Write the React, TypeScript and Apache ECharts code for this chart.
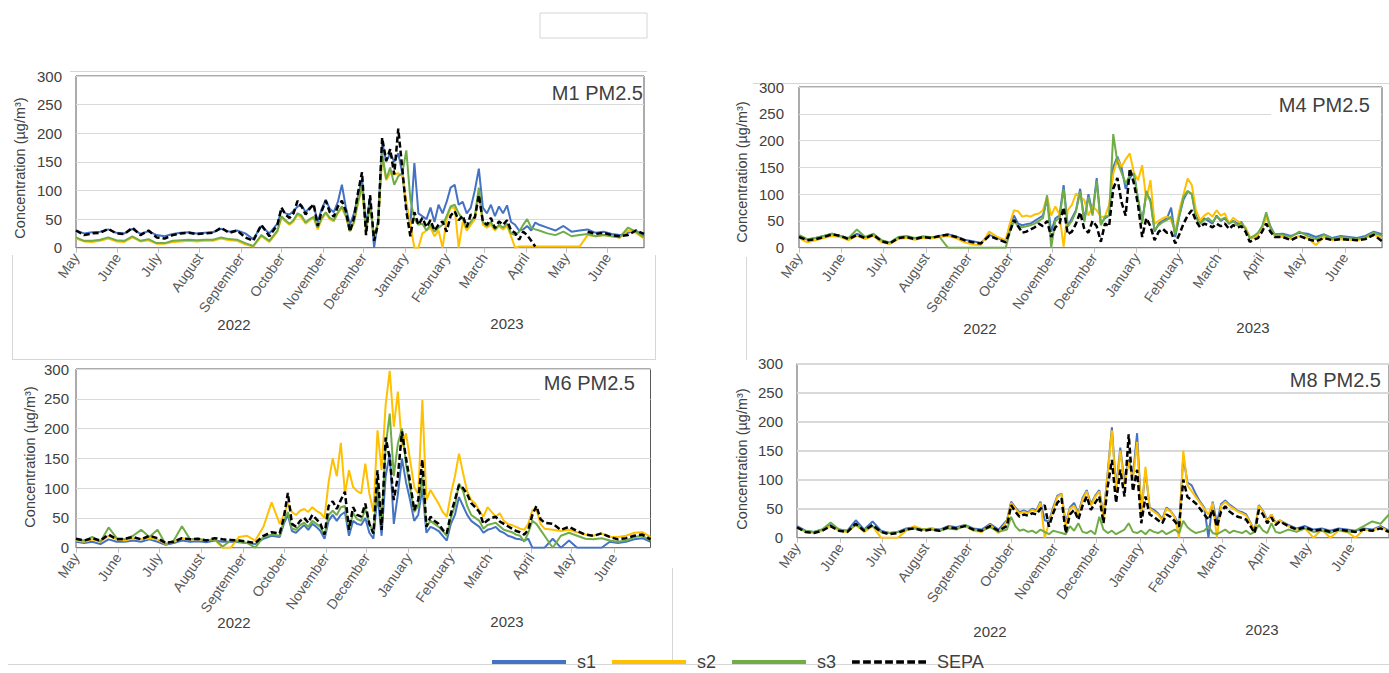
import { useEffect, useRef } from "react";
import * as echarts from "echarts";

// ---------- data ----------
const monthNames = ["January", "February", "March", "April", "May", "June", "July", "August", "September", "October", "November", "December"];
const seriesNames = ["s1", "s2", "s3", "SEPA"];
const seriesColors = ["#4472C4", "#FFC000", "#70AD47", "#000000"];
const panelTitles = ["M1 PM2.5", "M4 PM2.5", "M6 PM2.5", "M8 PM2.5"];
const yearLabels = ["2022", "2023"];
const yTitle = "Concentration (µg/m³)";
const yMin = 0;
const yMax = 300;
const yStep = 50;
const firstDay = "2022-05-01";
const dayCount = 424;

// day offsets (since 1 May 2022) of the sampled readings
const sampleDays = [
  0, 6, 12, 18, 24, 30, 36, 42, 48, 54, 60, 66, 72, 78, 84, 90, 96, 102, 108, 114, 120, 126, 132, 138, 144, 150,
  153, 156, 159, 162, 165, 168, 171, 174, 177, 180, 183, 186, 189, 192, 195, 198, 201, 204, 207, 210, 213, 216, 219, 222,
  225, 228, 231, 234, 237, 240, 243, 246, 249, 252, 255, 258, 261, 264, 267, 270, 273, 276, 279, 282, 285, 288, 291, 294,
  297, 300, 303, 306, 309, 312, 315, 318, 321, 324, 327, 330, 333, 336, 339, 342, 345,
  351, 357, 363, 369, 375, 381, 387, 393, 399, 405, 411, 417, 423,
];

// ---- M1 ----
const m1S1 = [
  30, 25, 27, 28, 32, 26, 25, 33, 24, 29, 22, 20, 24, 26, 27, 25, 26, 27, 33, 28, 30, 25, 15, 38, 25, 42,
  66, 60, 58, 64, 72, 74, 62, 70, 74, 45, 68, 84, 68, 62, 80, 110, 70, 40, 60, 90, 120, 40, 88, 0, 50, 185, 150, 165, 150, 165,
  130, 70, 40, 148, 60, 55, 50, 70, 45, 75, 60, 80, 105, 110, 75, 80, 60, 70, 100, 138, 70, 60, 75, 55, 72, 60, 74, 45, 40, 30,
  32, 38, 30, 44, 40,
  35, 30, 38, 28, 30, 32, 26, 28, 24, 22, 26, 30, 20,
];
const m1S2 = [
  16, 11, 10, 12, 16, 11, 10, 18, 11, 13, 7, 7, 10, 11, 12, 11, 12, 12, 16, 13, 12, 6, 2, 20, 10, 28,
  52, 46, 40, 46, 58, 52, 42, 48, 52, 32, 50, 60, 50, 46, 60, 70, 54, 28, 43, 78, 105, 28, 75, 18, 42, 160, 118, 130, 128, 130,
  125, 80, 40, 0, 0, 25, 30, 35, 20, 30, 0, 50, 70, 70, 0, 45, 30, 40, 50, 95, 40, 35, 40, 30, 38, 32, 38, 20, 0, 2,
  2, 2, 2, 2, 2,
  2, 2, 2, 2, 2, 22, 20, 22, 20, 18, 30, 26, 16,
];
const m1S3 = [
  18, 12, 12, 14, 18, 13, 12, 20, 12, 15, 8, 8, 12, 13, 14, 13, 14, 14, 18, 15, 14, 8, 3, 22, 12, 30,
  55, 48, 42, 48, 60, 56, 44, 50, 54, 35, 52, 62, 52, 48, 62, 72, 56, 30, 45, 80, 110, 30, 78, 20, 45, 165, 120, 140, 110, 125,
  130, 170, 85, 50, 40, 42, 30, 40, 28, 35, 40, 55, 72, 75, 60, 50, 35, 45, 55, 105, 45, 38, 45, 32, 40, 35, 42, 25, 22, 28,
  40, 50, 35, 32, 30,
  25, 22, 28, 20, 22, 24, 20, 22, 20, 18, 35, 28, 18,
];
const m1Sepa = [
  30, 22, 25, 26, 33, 25, 24, 35, 22, 30, 18, 16, 22, 25, 26, 24, 25, 26, 35, 26, 30, 18, 12, 40, 20, 40,
  70, 58, 52, 60, 82, 72, 58, 68, 76, 38, 64, 82, 62, 54, 72, 82, 64, 28, 52, 96, 132, 22, 92, 12, 42, 192, 152, 172, 128, 208,
  138, 64, 20, 62, 40, 52, 36, 48, 30, 40, 46, 28, 56, 64, 48, 56, 36, 58, 52, 92, 46, 40, 52, 34, 46, 40, 48, 30, 26, 14,
  28, 22, 12, 2, null,
  null, null, null, null, null, 28, 24, 26, 22, 20, 22, 30, 24,
];

// ---- M4 ----
const m4S1 = [
  22, 15, 18, 22, 26, 22, 17, 26, 19, 25, 13, 9, 19, 21, 17, 21, 19, 22, 25, 21, 15, 12, 9, 24, 18, 12,
  42, 60, 45, 42, 44, 45, 50, 55, 60, 90, 30, 55, 60, 117, 40, 55, 70, 110, 50, 100, 65, 130, 45, 55, 60, 150, 170, 150, 110, 130,
  140, 90, 50, 100, 90, 30, 45, 50, 55, 75, 20, 60, 90, 105, 100, 60, 45, 55, 50, 45, 60, 50, 55, 45, 50, 45, 48, 35, 20, 18,
  25, 35, 62, 40, 25,
  26, 22, 28, 26, 20, 25, 18, 22, 20, 18, 22, 30, 25,
];
const m4S2 = [
  18, 10, 14, 18, 22, 20, 14, 22, 16, 22, 10, 7, 16, 18, 15, 18, 17, 20, 22, 18, 10, 6, 5, 30, 20, 14,
  45, 70, 68, 58, 60, 58, 62, 64, 70, 95, 60, 77, 62, 2, 70, 80, 101, 95, 89, 60, 77, 70, 58, 58, 80, 138, 165, 151, 165, 176,
  140, 126, 154, 89, 126, 45, 50, 55, 58, 52, 30, 70, 100, 129, 117, 70, 51, 60, 65, 58, 70, 60, 64, 45, 56, 50, 45, 38, 20, 18,
  25, 35, 58, 35, 22,
  20, 16, 22, 18, 5, 20, 14, 16, 15, 14, 18, 24, 18,
];
const m4S3 = [
  24, 16, 18, 22, 26, 22, 18, 34, 20, 26, 14, 10, 20, 22, 18, 21, 20, 20, 0, 0, 0, 0, 0, 0, 0, 0,
  30, 50, 40, 38, 40, 42, 45, 50, 55, 98, 0, 50, 55, 110, 40, 50, 68, 105, 48, 95, 60, 125, 42, 58, 60, 212, 160, 140, 120, 135,
  138, 90, 45, 106, 85, 33, 42, 48, 52, 58, 25, 60, 95, 106, 100, 55, 45, 52, 55, 48, 58, 52, 56, 45, 50, 42, 46, 35, 18, 22,
  28, 40, 66, 38, 25,
  24, 20, 30, 22, 16, 24, 16, 20, 18, 16, 20, 28, 22,
];
const m4Sepa = [
  20, 14, 16, 20, 25, 22, 16, 24, 18, 24, 12, 8, 18, 20, 16, 20, 18, 22, 24, 20, 14, 10, 8, 22, 16, 10,
  30, 52, 40, 28, 30, 34, 38, 45, 40, 50, 20, 38, 45, 75, 25, 30, 45, 66, 35, 28, 50, 40, 11, 45, 40, 110, 130, 85, 60, 148,
  120, 80, 20, 55, 40, 14, 30, 35, 28, 30, 8, 25, 45, 60, 70, 50, 38, 45, 42, 38, 45, 40, 45, 35, 42, 38, 40, 30, 11, 15,
  18, 30, 45, 30, 20,
  20, 14, 22, 16, 12, 18, 14, 16, 15, 14, 16, 24, 12,
];

// ---- M6 ----
const m6S1 = [
  10, 8, 10, 6, 14, 10, 10, 12, 10, 14, 10, 5, 8, 12, 10, 11, 9, 12, 10, 10, 9, 8, 6, 15, 20, 18,
  40, 55, 28, 25, 32, 38, 30, 40, 35, 28, 15, 45, 55, 45, 55, 60, 20, 45, 40, 38, 50, 25, 15, 90, 20, 120, 158, 40, 90, 150,
  110, 80, 45, 55, 100, 25, 35, 32, 28, 20, 12, 40, 55, 85, 70, 55, 45, 40, 35, 25, 30, 32, 35, 28, 25, 20, 18, 15, 14, 12,
  15, 0, 0, 0, 0,
  15, 0, 12, 0, 0, 0, 0, 10, 8, 10, 14, 16, 10,
];
const m6S2 = [
  12, 10, 14, 10, 20, 14, 12, 16, 14, 16, 14, 6, 10, 16, 14, 14, 12, 14, 0, 0, 18, 20, 12, 35, 76, 40,
  55, 74, 60, 55, 62, 65, 60, 68, 62, 58, 50, 110, 150, 120, 176, 91, 130, 102, 95, 91, 141, 91, 60, 197, 130, 240, 297, 203, 262, 170,
  192, 147, 102, 90, 248, 80, 97, 85, 74, 60, 52, 90, 120, 158, 125, 95, 80, 74, 62, 52, 68, 60, 52, 58, 45, 40, 38, 35, 32, 30,
  40, 63, 65, 40, 32,
  30, 28, 30, 26, 22, 20, 24, 18, 18, 20, 25, 26, 18,
];
const m6S3 = [
  14, 12, 18, 10, 34, 16, 14, 20, 30, 18, 30, 6, 12, 36, 14, 15, 12, 14, 2, 12, 10, 8, 0, 18, 22, 20,
  45, 60, 32, 30, 38, 42, 35, 45, 40, 35, 20, 55, 62, 55, 68, 70, 30, 58, 48, 45, 65, 40, 25, 110, 40, 170, 225, 120, 175, 200,
  140, 100, 60, 70, 120, 35, 45, 40, 35, 28, 20, 50, 70, 108, 95, 70, 55, 50, 45, 32, 38, 40, 42, 36, 30, 28, 26, 22, 20, 10,
  25, 45, 40, 30, 20,
  0, 20, 25, 20, 15, 14, 16, 12, 10, 12, 18, 20, 12,
];
const m6Sepa = [
  15, 12, 16, 12, 22, 14, 15, 18, 14, 20, 16, 8, 10, 16, 14, 15, 12, 16, 14, 13, 12, 10, 8, 20, 26, 24,
  50, 92, 40, 35, 45, 50, 42, 55, 48, 40, 22, 70, 78, 65, 80, 94, 30, 68, 55, 52, 74, 40, 24, 130, 30, 185, 150, 80, 120, 195,
  150, 110, 63, 80, 148, 35, 52, 45, 40, 30, 24, 57, 80, 105, 100, 90, 75, 68, 60, 40, 46, 50, 52, 44, 40, 36, 32, 28, 26, 22,
  30, 55, 70, 48, 42,
  40, 30, 35, 28, 22, 20, 24, 18, 14, 16, 20, 22, 14,
];

// ---- M8 ----
const m8S1 = [
  20, 12, 10, 14, 22, 14, 12, 30, 14, 28, 12, 8, 10, 16, 18, 14, 16, 14, 20, 18, 22, 16, 14, 24, 14, 30,
  62, 52, 44, 47, 44, 50, 47, 62, 30, 28, 52, 72, 76, 25, 52, 60, 42, 68, 82, 58, 72, 82, 38, 112, 190, 85, 155, 95, 135, 105,
  180, 45, 115, 52, 48, 42, 32, 52, 46, 36, 20, 140, 95, 90, 75, 62, 52, 0, 62, 25, 58, 64, 57, 52, 46, 44, 40, 26, 12, 56,
  46, 30, 40, 26, 30,
  22, 16, 20, 14, 16, 12, 16, 14, 12, 16, 14, 20, 12,
];
const m8S2 = [
  18, 10, 8, 12, 20, 12, 10, 22, 10, 20, 0, 0, 0, 12, 20, 14, 16, 12, 18, 16, 20, 12, 10, 22, 8, 28,
  60, 50, 42, 45, 42, 48, 45, 60, 0, 25, 48, 70, 75, 20, 50, 55, 40, 65, 80, 55, 70, 80, 35, 110, 185, 80, 150, 90, 130, 100,
  165, 40, 122, 50, 45, 40, 30, 50, 45, 35, 0, 150, 90, 80, 70, 60, 50, 40, 60, 0, 55, 62, 55, 50, 45, 42, 38, 25, 10, 55,
  45, 28, 40, 25, 30,
  20, 14, 16, 0, 14, 0, 12, 10, 0, 14, 12, 18, 10,
];
const m8S3 = [
  16, 12, 10, 14, 26, 14, 12, 22, 14, 20, 10, 8, 10, 14, 16, 14, 14, 12, 16, 14, 22, 14, 12, 18, 10, 14,
  36, 20, 12, 14, 10, 12, 8, 14, 10, 6, 12, 10, 8, 6, 20, 12, 25, 10, 8, 12, 6, 36, 14, 8, 12, 6, 10, 14, 25, 10,
  8, 12, 6, 14, 10, 8, 12, 6, 10, 14, 8, 29, 18, 12, 8, 10, 12, 20, 8, 6, 10, 14, 8, 12, 10, 8, 12, 6, 10, 22,
  12, 8, 25, 10, 8,
  14, 10, 16, 10, 12, 8, 14, 10, 12, 20, 28, 24, 40,
];
const m8Sepa = [
  18, 10, 8, 12, 20, 12, 10, 24, 12, 22, 10, 6, 8, 14, 16, 12, 14, 12, 18, 16, 20, 14, 12, 20, 12, 20,
  56, 45, 36, 40, 38, 42, 40, 50, 56, 19, 42, 60, 68, 8, 40, 48, 31, 55, 71, 48, 60, 71, 25, 88, 134, 60, 117, 71, 178, 80,
  117, 25, 71, 40, 36, 30, 25, 40, 36, 28, 19, 100, 70, 65, 59, 50, 40, 31, 48, 19, 45, 54, 45, 40, 36, 34, 31, 20, 8, 48,
  40, 25, 35, 22, 28,
  20, 14, 18, 12, 14, 10, 14, 12, 10, 14, 12, 16, 10,
];

const panelSeries = [
  [m1S1, m1S2, m1S3, m1Sepa],
  [m4S1, m4S2, m4S3, m4Sepa],
  [m6S1, m6S2, m6S3, m6Sepa],
  [m8S1, m8S2, m8S3, m8Sepa],
];

// ---------- layout (pixels) ----------
const layouts = [
  { left: 76, top: 76, width: 568, height: 171.7, yShift: 5, labelMargin: 14, yt: [20, 168], years: [[234, 324], [507, 323]], title: [643, 93], bg: [546, 80, 97, 22], split: 1 },
  { left: 799, top: 87, width: 583, height: 160.7, yShift: 4, labelMargin: 15, yt: [742, 172], years: [[980, 328], [1253, 327]], title: [1370, 105], bg: [1271, 92, 110, 23], split: 1 },
  { left: 76, top: 369, width: 574.5, height: 178.7, yShift: 0, labelMargin: 7, yt: [29.5, 457], years: [[234, 622], [507, 621]], title: [635, 383], bg: [540, 371, 110, 29], split: 1 },
  { left: 797, top: 363.5, width: 607, height: 174.2, yShift: 8, labelMargin: 14, yt: [742, 459], years: [[990, 631], [1262, 629]], title: [1381, 380], bg: [1283, 368, 105, 22], split: 2 },
];

const FONT = "'Liberation Sans', Arial, Helvetica, sans-serif";

const solidIcon = "path://M0,0h74v4h-74z";
const dashIcon =
  "path://M0,0h7v3h-7z M10,0h7v3h-7z M20,0h7v3h-7z M30,0h7v3h-7z M40,0h7v3h-7z M50,0h7v3h-7z M60,0h7v3h-7z";

function buildCategories(): string[] {
  const out: string[] = [];
  const [y, m, d] = firstDay.split("-").map(Number);
  for (let i = 0; i < dayCount; i++) {
    const dt = new Date(Date.UTC(y, m - 1, d + i));
    out.push(dt.toISOString().slice(0, 10));
  }
  return out;
}

export default function App() {
  const ref = useRef<HTMLDivElement>(null);

  useEffect(() => {
    if (!ref.current) return;
    const chart = echarts.init(ref.current, undefined, { renderer: "svg" });
    const categories = buildCategories();
    const isMonthStart = (_i: number, v: string) => typeof v === "string" && v.endsWith("-01");

    const grids = layouts.map((l) => ({
      left: l.left,
      top: l.top,
      width: l.width,
      height: l.height,
      show: true,
      borderColor: "#595959",
      borderWidth: 1,
      backgroundColor: "transparent",
      containLabel: false,
    }));

    const xAxes = layouts.map((_l, p) => ({
      type: "category",
      gridIndex: p,
      data: categories,
      boundaryGap: false,
      axisLine: { show: true, lineStyle: { color: "#7f7f7f", width: 1 } },
      axisTick: { show: true, interval: isMonthStart, length: 5, lineStyle: { color: "#bfbfbf" } },
      axisLabel: {
        interval: isMonthStart,
        rotate: 55,
        margin: 7,
        fontSize: 14,
        fontFamily: FONT,
        color: "#595959",
        formatter: (v: string) => monthNames[Number(v.slice(5, 7)) - 1],
      },
      splitLine: { show: false },
    }));

    const yAxes = layouts.map((l, p) => ({
      type: "value",
      gridIndex: p,
      min: yMin,
      max: yMax,
      interval: yStep,
      axisLine: { show: false },
      axisTick: { show: false },
      axisLabel: {
        fontSize: 15,
        fontFamily: FONT,
        color: "#404040",
        margin: l.labelMargin,
        padding: [l.yShift * 2, 0, 0, 0],
      },
      splitLine: { show: true, lineStyle: { color: "#d9d9d9", width: l.split } },
    }));

    const series: any[] = [];
    panelSeries.forEach((arrs, p) => {
      arrs.forEach((arr, k) => {
        series.push({
          name: seriesNames[k],
          type: "line",
          xAxisIndex: p,
          yAxisIndex: p,
          data: sampleDays.map((d, i) => [d, arr[i]]),
          symbol: "none",
          showSymbol: false,
          connectNulls: false,
          silent: true,
          z: 2 + k,
          itemStyle: { color: seriesColors[k] },
          lineStyle:
            k === 3
              ? { color: seriesColors[k], width: 2.5, type: [6, 3] }
              : { color: seriesColors[k], width: 2 },
        });
      });
    });

    const graphic: any[] = [];
    const faint = "#d6d6d6";
    const line = (x1: number, y1: number, x2: number, y2: number) => ({
      type: "line",
      shape: { x1, y1, x2, y2 },
      style: { stroke: faint, lineWidth: 1 },
      z: 0,
      silent: true,
    });
    graphic.push({ type: "rect", shape: { x: 540, y: 13, width: 107, height: 25 }, style: { fill: "#ffffff", stroke: faint, lineWidth: 1 }, z: 0, silent: true });
    graphic.push(line(70, 71.5, 647, 71.5));
    graphic.push(line(12.5, 255, 12.5, 360));
    graphic.push(line(655.5, 255, 655.5, 360));
    graphic.push(line(12, 359.5, 656, 359.5));
    graphic.push(line(746.5, 257, 746.5, 360));
    graphic.push(line(753, 83.5, 1389, 83.5));
    graphic.push(line(672.5, 568, 672.5, 664));
    graphic.push(line(8, 664.5, 1389, 664.5));

    layouts.forEach((l, p) => {
      graphic.push({
        type: "rect",
        shape: { x: l.bg[0], y: l.bg[1], width: l.bg[2], height: l.bg[3] },
        style: { fill: "#ffffff" },
        z: 90,
        silent: true,
      });
      graphic.push({
        type: "text",
        x: l.title[0],
        y: l.title[1],
        style: { text: panelTitles[p], fontSize: 20, fontFamily: FONT, fill: "#404040", align: "right", verticalAlign: "middle" },
        z: 91,
        silent: true,
      });
      graphic.push({
        type: "text",
        x: l.yt[0],
        y: l.yt[1],
        rotation: Math.PI / 2,
        style: { text: yTitle, fontSize: 14.5, fontFamily: FONT, fill: "#404040", align: "center", verticalAlign: "middle" },
        z: 91,
        silent: true,
      });
      l.years.forEach((pos, j) => {
        graphic.push({
          type: "text",
          x: pos[0],
          y: pos[1],
          style: { text: yearLabels[j], fontSize: 15, fontFamily: FONT, fill: "#404040", align: "center", verticalAlign: "middle" },
          z: 91,
          silent: true,
        });
      });
    });

    chart.setOption({
      animation: false,
      backgroundColor: "#ffffff",
      textStyle: { fontFamily: FONT },
      grid: grids,
      xAxis: xAxes,
      yAxis: yAxes,
      series,
      graphic,
      legend: {
        left: 492,
        top: 653,
        padding: 0,
        itemWidth: 74,
        itemHeight: 4,
        itemGap: 16,
        selectedMode: false,
        textStyle: { fontSize: 18, fontFamily: FONT, color: "#404040", padding: [0, 0, 0, 6] },
        data: [
          { name: "s1", icon: solidIcon },
          { name: "s2", icon: solidIcon },
          { name: "s3", icon: solidIcon },
          { name: "SEPA", icon: dashIcon },
        ],
      },
    });

    return () => chart.dispose();
  }, []);

  return (
    <div
      ref={ref}
      style={{ position: "fixed", left: 0, top: 0, width: 1389, height: 673, background: "#ffffff" }}
    />
  );
}
